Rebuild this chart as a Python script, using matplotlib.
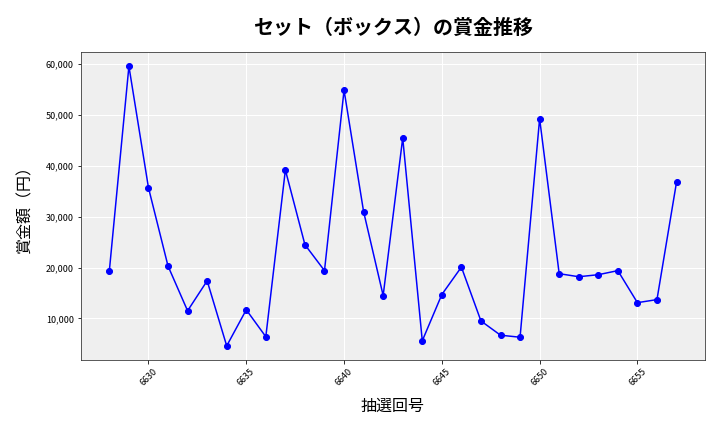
import matplotlib.pyplot as plt
from matplotlib.ticker import FuncFormatter

plt.rcParams['font.family'] = ['Noto Sans CJK JP', 'DejaVu Sans']

draw_no = list(range(6628, 6658))
prize = [19400, 59600, 35700, 20300, 11500, 17400, 4600, 11700, 6400, 39200,
         24500, 19400, 54900, 31000, 14500, 45500, 5600, 14700, 20100, 9500,
         6700, 6300, 49300, 18800, 18200, 18600, 19400, 13100, 13700, 36800]

fig, ax = plt.subplots(figsize=(10, 6), dpi=72)
fig.subplots_adjust(left=0.1125, right=0.979, top=0.879, bottom=0.167)

ax.set_facecolor('#efefef')
ax.grid(True, color='white', linewidth=1)
ax.set_axisbelow(True)
for sp in ax.spines.values():
    sp.set_color('#333333')

ax.plot(draw_no, prize, color='blue', marker='o', markersize=6, linewidth=1.5)

ax.set_title('セット（ボックス）の賞金推移', fontsize=20, fontweight='bold', pad=18)
ax.set_xlabel('抽選回号', fontsize=16, labelpad=10)
ax.set_ylabel('賞金額（円）', fontsize=16, labelpad=12)
ax.yaxis.set_major_formatter(FuncFormatter(lambda v, p: f'{int(v):,}'))
ax.tick_params(axis='x', labelrotation=45, labelsize=9)
ax.tick_params(axis='y', labelsize=9)

plt.savefig('out.png')
